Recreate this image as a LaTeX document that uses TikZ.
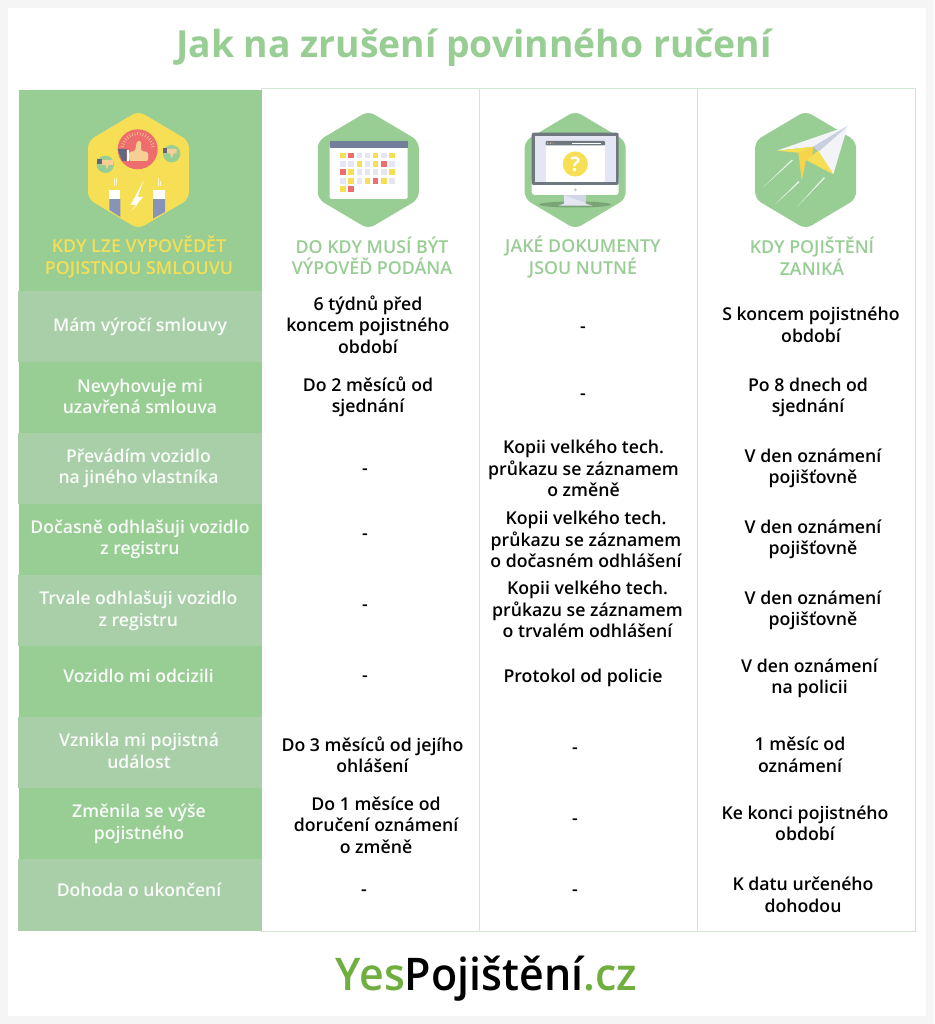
\documentclass[tikz,border=0pt]{standalone}
\usepackage{fontspec}
\setmainfont{Open Sans}
\newfontfamily\semifont{Open Sans Semibold}
\newfontfamily\brandfont[FakeStretch=0.955]{Open Sans Semibold}
\usetikzlibrary{positioning}
\definecolor{leaf}{HTML}{98CD94}
\definecolor{pale}{HTML}{A9CFA9}
\definecolor{rule}{HTML}{CFE8CF}
\definecolor{sun}{HTML}{F7DF55}
\definecolor{coral}{HTML}{EE6E6E}
\definecolor{slate}{HTML}{8794B8}
\definecolor{mist}{HTML}{E4E6F3}
\definecolor{skin}{HTML}{F6CF95}
\definecolor{logo}{HTML}{6FAE3F}
\definecolor{bezel}{HTML}{70787F}
\tikzset{
  rowcell/.style={minimum width=243pt,minimum height=71pt,inner sep=0pt,outer sep=0pt,anchor=north west},
  lefttext/.style={align=center,text=white!94!leaf,font=\semifont\fontsize{17.6}{21.5}\selectfont},
  bodytext/.style={align=center,text=black,font=\semifont\fontsize{17.7}{21.5}\selectfont},
  headtext/.style={align=center,text=leaf,font=\semifont\fontsize{17.8}{21.5}\selectfont},
}
% rounded hexagon: centre x, centre y, colour
\newcommand{\hexicon}[3]{
  \fill[#3,rounded corners=7pt] (#1,#2-59) -- (#1+50.5,#2-29) -- (#1+50.5,#2+29)
    -- (#1,#2+59) -- (#1-50.5,#2+29) -- (#1-50.5,#2-29) -- cycle;
}
\begin{document}
\begin{tikzpicture}[x=1pt,y=-1pt]
\useasboundingbox (0,0) rectangle (934,1024);
\fill[black!4] (0,0) rectangle (934,1024);
\fill[white] (8,8) rectangle (926,1016);

\node (title) at (474,48) [text=leaf,font=\bfseries\fontsize{37.3}{39}\selectfont] {Jak na zrušení povinného ručení};

% table
\draw[rule,line width=1pt] (261,89) rectangle (915,931);
\draw[rule,line width=1pt] (479,89) -- (479,931);
\draw[rule,line width=1pt] (697.5,89) -- (697.5,931);
\node (head_cell) at (19,90) [rowcell,fill=leaf,minimum height=201pt] {};
\node (r1) at (18,291) [rowcell,fill=pale,minimum width=244pt] {};
\node (r2) at (19,362) [rowcell,fill=leaf] {};
\node (r3) at (18,433) [rowcell,fill=pale,minimum width=244pt] {};
\node (r4) at (19,504) [rowcell,fill=leaf] {};
\node (r5) at (18,575) [rowcell,fill=pale,minimum width=244pt] {};
\node (r6) at (19,646) [rowcell,fill=leaf] {};
\node (r7) at (18,717) [rowcell,fill=pale,minimum width=244pt] {};
\node (r8) at (19,788) [rowcell,fill=leaf] {};
\node (r9) at (18,859) [rowcell,fill=pale,minimum width=244pt,minimum height=72pt] {};

% icon one
\hexicon{138.5}{170}{sun}
\fill[coral] (137.7,149.3) circle (20pt);
\foreach \a in {190,200,...,350}
  \draw[skin,line width=.6pt] ([shift={(\a:14)}]137.7,149.3) -- ([shift={(\a:17)}]137.7,149.3);
\fill[slate!70!black] (117.7,149) -- (126.5,149) -- (126.5,161) -- (122,161) -- cycle;
\fill[white] (126.5,150) rectangle (129,161);
\fill[skin,rounded corners=1.5pt] (129,152) -- (135,151) -- (137,141) -- (141,141) -- (141,151) -- (148,152) -- (148,161) -- (129,161) -- cycle;
\fill[leaf] (105.3,164.3) circle (8.7pt);
\fill[skin] (101.7,160) -- (113,160) -- (113,165) -- (108.5,165) -- (107,169.5) -- (105.5,165) -- (101.7,165) -- cycle;
\fill[slate!70!black] (97.3,159.5) rectangle (101.7,164.5);
\fill[leaf] (171.7,153.7) circle (8.7pt);
\fill[skin] (166.7,149) -- (176.7,149) -- (176.7,153.5) -- (173.5,153.5) -- (171.7,158.5) -- (170,153.5) -- (166.7,153.5) -- cycle;
\fill[slate!70!black] (163.3,148.3) rectangle (166.7,153.5);
\fill[slate] (109.3,199) -- (120.3,199) -- (120.3,217) -- (109.3,210) -- cycle;
\fill[white] (109.3,190) rectangle (120.3,199);
\fill[slate] (153,199) -- (165,199) -- (165,212) -- (153,218.5) -- cycle;
\fill[white] (153,190) rectangle (165,199);
\draw[white!70!sun,line width=.7pt] (114,186) -- (114,179) (116,185) -- (116,178);
\draw[white!70!sun,line width=.7pt] (158,186) -- (158,178) (160,186) -- (160,181);
\fill[white] (143.5,181) -- (130.5,205) -- (137,205) -- (131,211) -- (143,197) -- (137.5,197) -- cycle;

% icon two
\hexicon{368.3}{170}{leaf}
\fill[white,rounded corners=1.5pt] (329.5,145) rectangle (407.5,199);
\fill[slate!85!black] (329.5,141) rectangle (407.5,148.5);
\foreach \rowy/\cols in {155.7/{sun,coral,mist,mist,sun,mist,sun},164/{mist,mist,sun,mist,sun,coral,mist},172.3/{coral,sun,mist,mist,mist,mist,sun},181/{mist,sun,mist,sun,coral,sun,mist},189.3/{sun,coral}} {
  \foreach \shade [count=\i from 0] in \cols
    \fill[\shade] (343+\i*8.17-2.8,\rowy-2.8) rectangle ++(5.6,5.6);
}

% icon three
\hexicon{575.2}{170}{leaf}
\fill[leaf!80!black] (575,204.5) ellipse (36pt and 3pt);
\fill[mist] (564,195) -- (585.7,195) -- (585.7,203.7) -- (592.7,205.7) -- (558.3,205.7) -- (564,203.7) -- cycle;
\fill[mist!80!slate] (564,195) -- (585.7,195) -- (585.7,203) -- cycle;
\fill[white,rounded corners=3pt] (531.7,176) rectangle (618.7,195);
\fill[bezel,rounded corners=2pt] (531.7,132.7) rectangle (618.7,185);
\fill[mist] (535,136) rectangle (616,182);
\fill[white] (545.7,141) rectangle (605,182);
\fill[bezel,rounded corners=.8pt] (545.7,141) rectangle (605,145.3);
\draw[white,line width=.9pt] (572.3,143.2) -- (601,143.2);
\fill[sun] (547.7,143.2) circle (.7pt);
\fill[skin] (550.5,143.2) circle (.7pt);
\fill[coral] (553.3,143.2) circle (.7pt);
\fill[sun] (575.3,164) circle (12.5pt);
\node (query) at (575.3,164) [text=white,font=\bfseries\fontsize{20}{20}\selectfont,inner sep=0pt] {?};
\fill[slate!50] (575.3,189.7) circle (1.5pt);

% icon four
\hexicon{805.6}{170}{leaf}
\fill[white!90!slate] (847.7,126) -- (776.7,150.7) -- (813.3,146.7) -- cycle;
\fill[white!90!slate] (847.7,126) -- (818.3,151.7) -- (833.3,174.3) -- cycle;
\fill[slate!45] (847.7,126) -- (813.3,146.7) -- (818.3,151.7) -- cycle;
\fill[sun] (776.7,150.7) -- (813.3,146.7) -- (798.3,152.7) -- cycle;
\fill[sun!88!orange] (798.3,152.7) -- (813.3,146.7) -- (812.3,155) -- (806,160) -- (801.7,180.7) -- cycle;
\fill[sun] (806,160) -- (818.3,150.7) -- (833.3,174.3) -- cycle;
\fill[white!80!leaf] (762.7,187.7) -- (791.8,159.5) -- (792.8,160.5) -- cycle;
\fill[white!80!leaf] (774.3,205) -- (798.5,181.2) -- (799.5,182.2) -- cycle;
\fill[white!80!leaf] (796.7,207.3) -- (823.8,177.2) -- (824.8,178.2) -- cycle;

% column heads
\node (head_a) at (139,257) [headtext,text=sun] {KDY LZE VYPOVĚDĚT\\POJISTNOU SMLOUVU};
\node (head_b) at (372,256) [headtext] {DO KDY MUSÍ BÝT\\VÝPOVĚĎ PODÁNA};
\node (head_c) at (583,257) [headtext] {JAKÉ DOKUMENTY\\JSOU NUTNÉ};
\node (head_d) at (812,256) [headtext] {KDY POJIŠTĚNÍ\\ZANIKÁ};

% left column
\node (a1) at (140,327) [lefttext] {Mám výročí smlouvy};
\node (a2) at (140,396.5) [lefttext] {Nevyhovuje mi\\uzavřená smlouva};
\node (a3) at (138.5,468.5) [lefttext] {Převádím vozidlo\\na jiného vlastníka};
\node (a4) at (140,539.5) [lefttext] {Dočasně odhlašuji vozidlo\\z registru};
\node (a5) at (138.3,611) [lefttext] {Trvale odhlašuji vozidlo\\z registru};
\node (a6) at (138.5,675.5) [lefttext] {Vozidlo mi odcizili};
\node (a7) at (139,751) [lefttext] {Vznikla mi pojistná\\událost};
\node (a8) at (139,824) [lefttext] {Změnila se výše\\pojistného};
\node (a9) at (139,889.5) [lefttext] {Dohoda o ukončení};

% second column
\node (b1) at (368,324.5) [bodytext] {6 týdnů před\\koncem pojistného\\období};
\node (b2) at (368,397) [bodytext] {Do 2 měsíců od\\sjednání};
\node (b3) at (365,471.5) [bodytext] {-};
\node (b4) at (365,536.5) [bodytext] {-};
\node (b5) at (365,607.5) [bodytext] {-};
\node (b6) at (365,678.5) [bodytext] {-};
\node (b7) at (372.5,755) [bodytext] {Do 3 měsíců od jejího\\ohlášení};
\node (b8) at (376,825) [bodytext] {Do 1 měsíce od\\doručení oznámení\\o změně};
\node (b9) at (364,892.5) [bodytext] {-};

% third column
\node (c1) at (583,329.5) [bodytext] {-};
\node (c2) at (583,396.5) [bodytext] {-};
\node (c3) at (583.5,468.5) [bodytext] {Kopii velkého tech.\\průkazu se záznamem\\o změně};
\node (c4) at (586,539.5) [bodytext] {Kopii velkého tech.\\průkazu se záznamem\\o dočasném odhlášení};
\node (c5) at (587.5,609.5) [bodytext] {Kopii velkého tech.\\průkazu se záznamem\\o trvalém odhlášení};
\node (c6) at (583,678) [bodytext] {Protokol od policie};
\node (c7) at (575,750.5) [bodytext] {-};
\node (c8) at (575,821.5) [bodytext] {-};
\node (c9) at (575,892.5) [bodytext] {-};

% last column
\node (d1) at (811,325) [bodytext] {S koncem pojistného\\období};
\node (d2) at (808,397.5) [bodytext] {Po 8 dnech od\\sjednání};
\node (d3) at (813,468.5) [bodytext] {V den oznámení\\pojišťovně};
\node (d4) at (813,539.5) [bodytext] {V den oznámení\\pojišťovně};
\node (d5) at (813,610.5) [bodytext] {V den oznámení\\pojišťovně};
\node (d6) at (809.5,678.5) [bodytext] {V den oznámení\\na policii};
\node (d7) at (800,755) [bodytext] {1 měsíc od\\oznámení};
\node (d8) at (805,823.5) [bodytext] {Ke konci pojistného\\období};
\node (d9) at (803,895) [bodytext] {K datu určeného\\dohodou};

\node (brand) at (486.5,979) [font=\brandfont\fontsize{45}{45}\selectfont] {\textcolor{logo}{Yes}Pojištění\textcolor{logo}{.cz}};
\end{tikzpicture}
\end{document}
